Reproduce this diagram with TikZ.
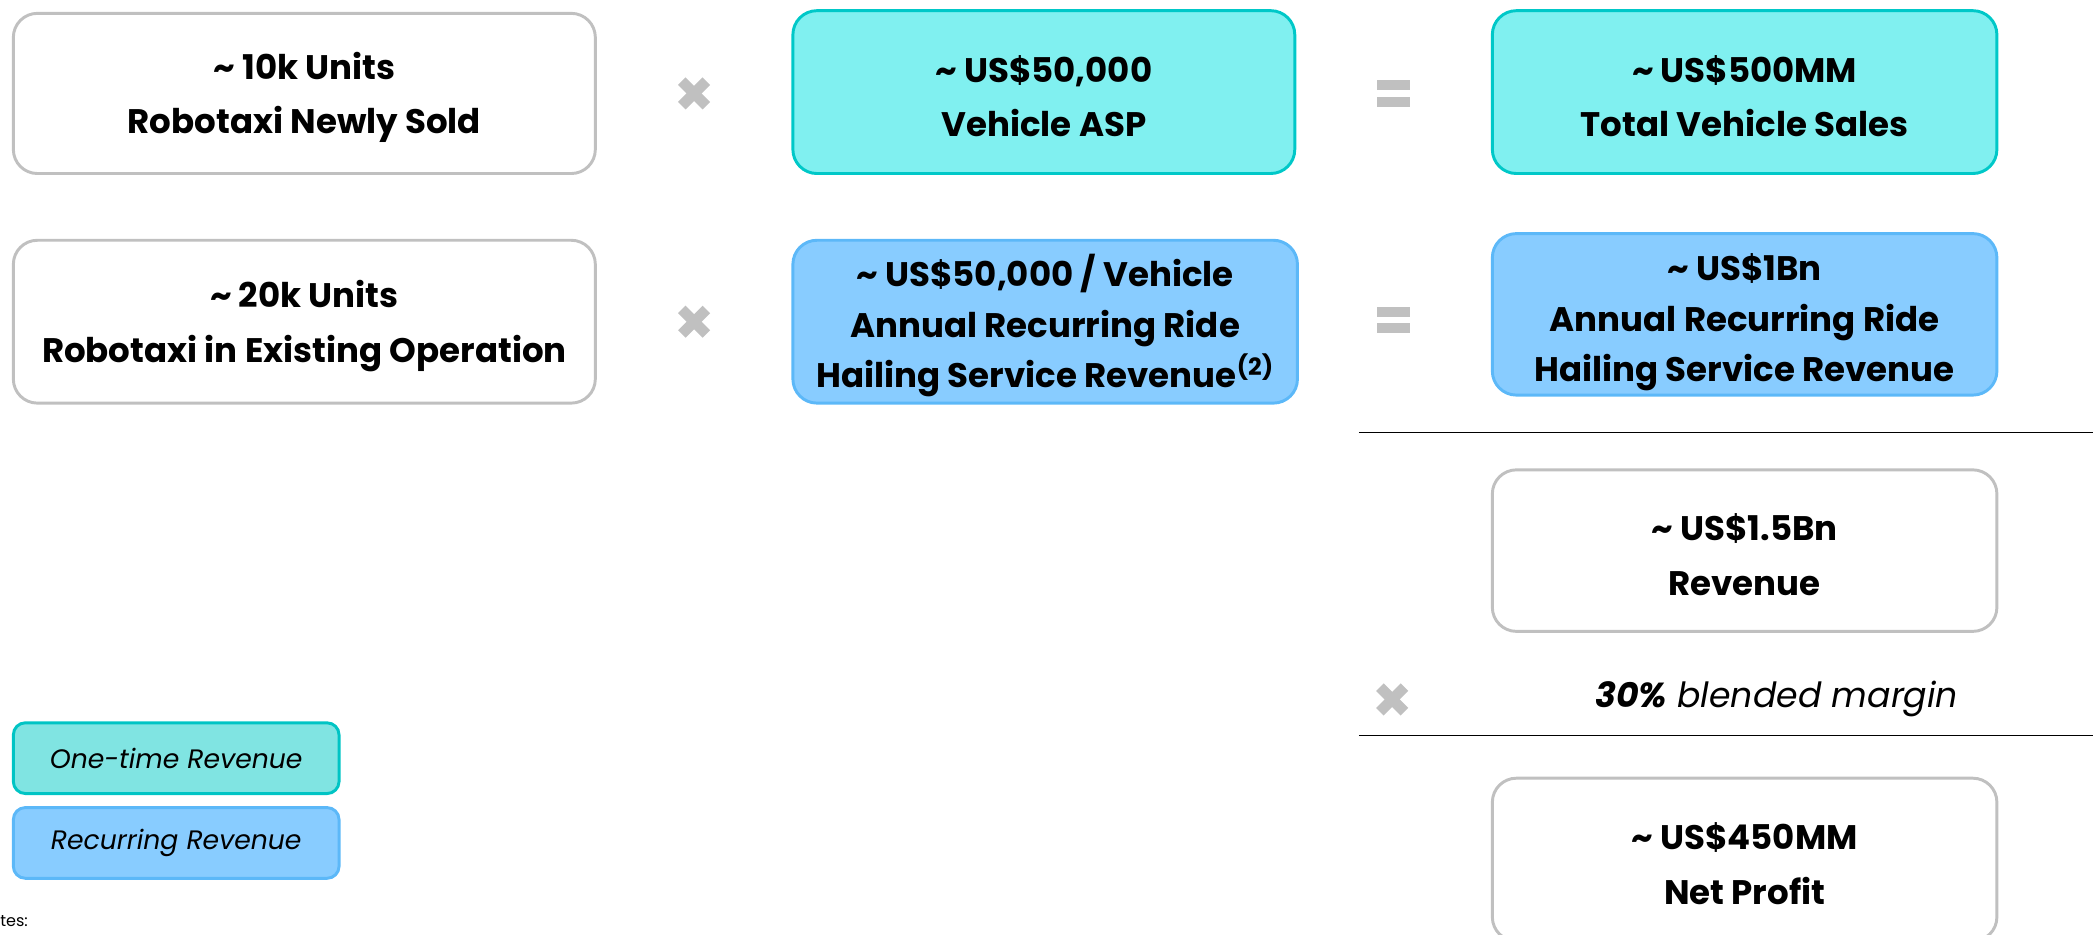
\documentclass[tikz,border=0pt]{standalone}
\usepackage{fontspec}
\setmainfont{Poppins}
\definecolor{boxgray}{HTML}{C0C0C0}
\definecolor{tealfill}{HTML}{80F0F0}
\definecolor{tealline}{HTML}{00C8C8}
\definecolor{legteal}{HTML}{80E4E2}
\definecolor{legtealline}{HTML}{00C4C4}
\definecolor{bluefill}{HTML}{88CCFF}
\definecolor{blueline}{HTML}{5CB8F8}
\definecolor{symgray}{HTML}{C0C0C0}
\tikzset{
  box/.style={draw=boxgray, line width=2.2pt, rounded corners=18pt, fill=white,
    minimum width=#1, minimum height=121pt, inner sep=0pt},
  box/.default=378pt,
  tealbox/.style={box, fill=tealfill, draw=tealline},
  bluebox/.style={box, fill=bluefill, draw=blueline},
  boxtext/.style={inner sep=0pt, align=center, font=\bfseries\fontsize{25.5}{41}\selectfont},
  boxtext3/.style={inner sep=0pt, align=center, font=\bfseries\fontsize{25.5}{38}\selectfont},
  legbox/.style={line width=2.2pt, rounded corners=9pt, minimum width=244pt, minimum height=53pt,
    inner sep=0pt, font=\itshape\fontsize{20}{23}\selectfont},
  sep/.style={line width=1.4pt, black},
  crossmark/.style={line width=8pt, symgray},
}
\newcommand{\crossat}[2]{%
  \draw[crossmark] (#1-9.2,#2-9.2) -- (#1+9.2,#2+9.2);
  \draw[crossmark] (#1-9.2,#2+9.2) -- (#1+9.2,#2-9.2);}
\newcommand{\equalat}[2]{%
  \fill[symgray] (#1-12.5,#2-9.7) rectangle (#1+12.5,#2-2.2);
  \fill[symgray] (#1-12.5,#2+2.3) rectangle (#1+12.5,#2+9.8);}
\begin{document}
\begin{tikzpicture}[x=1pt,y=-1pt]
\useasboundingbox (0,0) rectangle (1568,700);
% row 1
\node[box=436pt, minimum height=120pt] (units1) at (228,70) {};
\node[boxtext] (units1t) at ([yshift=-3pt]units1.center) {\textasciitilde{} 10k Units\\Robotaxi Newly Sold};
\node[tealbox, minimum width=376pt, minimum height=122pt] (asp) at (782,69) {};
\node[boxtext] (aspt) at ([yshift=-3pt]asp.center) {\textasciitilde{} US\$50,000\\Vehicle ASP};
\node[tealbox, minimum height=122pt] (sales) at (1307,69) {};
\node[boxtext] (salest) at ([yshift=-3pt]sales.center) {\textasciitilde{} US\$500MM\\Total Vehicle Sales};
\crossat{520}{70}
\equalat{1044}{70}
% row 2
\node[box=436pt, minimum height=122pt] (units2) at (228,241) {};
\node[boxtext] (units2t) at ([yshift=-3pt]units2.center) {\textasciitilde{} 20k Units\\Robotaxi in Existing Operation};
\node[bluebox, minimum height=122pt] (ride) at (783,241) {};
\node[boxtext3] (ridet) at ([yshift=-3pt]ride.center) {\textasciitilde{} US\$50,000 / Vehicle\\Annual Recurring Ride\\Hailing Service Revenue\textsuperscript{(2)}};
\node[bluebox, minimum height=121pt] (ridetotal) at (1307,235.5) {};
\node[boxtext3] (ridetotalt) at ([yshift=-6pt]ridetotal.center) {\textasciitilde{} US\$1Bn\\Annual Recurring Ride\\Hailing Service Revenue};
\crossat{520}{241}
\equalat{1044}{240}
% separator 1
\coordinate (s1a) at (1018,324);
\coordinate (s1b) at (1568,324);
\draw[sep] (s1a) -- (s1b);
% revenue
\node[box] (rev) at (1307,412.5) {};
\node[boxtext] (revt) at ([yshift=-3pt]rev.center) {\textasciitilde{} US\$1.5Bn\\Revenue};
\crossat{1043}{524}
\node[font=\itshape\fontsize{26}{30}\selectfont, anchor=center] (margin) at (1331,524) {\textbf{30\%} blended margin};
% separator 2
\coordinate (s2a) at (1018,551);
\coordinate (s2b) at (1568,551);
\draw[sep] (s2a) -- (s2b);
% net profit
\node[box, minimum height=122pt] (np) at (1307,644) {};
\node[boxtext] (npt) at ([yshift=-3pt]np.center) {\textasciitilde{} US\$450MM\\Net Profit};
% legend
\node[legbox, fill=legteal, draw=legtealline] (leg1) at (132,568) {One-time Revenue};
\node[legbox, fill=bluefill, draw=blueline] (leg2) at (132,631.5) {Recurring Revenue};
\node[anchor=west, inner sep=0pt, font=\fontsize{12}{14}\selectfont] (notes) at (0,690) {tes:};
\end{tikzpicture}
\end{document}
